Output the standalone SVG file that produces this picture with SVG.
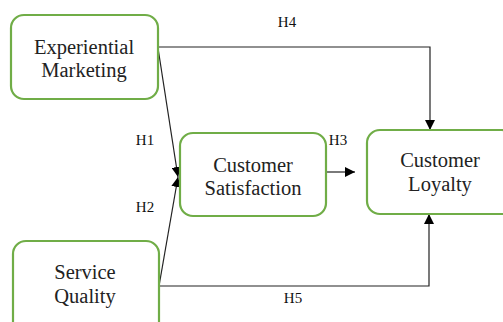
<svg xmlns="http://www.w3.org/2000/svg" width="503" height="322" viewBox="0 0 503 322">
  <style>
    .box { fill: #ffffff; stroke: #70ad47; stroke-width: 2.2; }
    .name { font-family: "Liberation Serif", "Times New Roman", serif; font-size: 20.5px; fill: #222; text-anchor: middle; }
    .hyp { font-family: "Liberation Serif", "Times New Roman", serif; font-size: 15px; fill: #111; text-anchor: middle; }
    .link { fill: none; stroke: #222; stroke-width: 1.2; }
  </style>
  <defs>
    <marker id="tip" viewBox="0 0 10 10" refX="10" refY="5" markerWidth="10" markerHeight="10" markerUnits="userSpaceOnUse" orient="auto">
      <path d="M0,0 L10,5 L0,10 Z" fill="#000"/>
    </marker>
  </defs>
  <rect width="503" height="322" fill="#ffffff"/>

  <g id="connectors">
    <!-- H4: Experiential Marketing -> Customer Loyalty (over the top) -->
    <polyline class="link" points="158,47 430,47 430,130" marker-end="url(#tip)"/>
    <!-- H1: Experiential Marketing -> Customer Satisfaction -->
    <line class="link" x1="158" y1="48" x2="178" y2="177" marker-end="url(#tip)"/>
    <!-- H2: Service Quality -> Customer Satisfaction -->
    <line class="link" x1="159" y1="286" x2="178" y2="177" marker-end="url(#tip)"/>
    <!-- H3: Customer Satisfaction -> Customer Loyalty -->
    <line class="link" x1="327" y1="172" x2="355" y2="172" marker-end="url(#tip)"/>
    <!-- H5: Service Quality -> Customer Loyalty (along the bottom) -->
    <polyline class="link" points="159,286 429,286 429,214" marker-end="url(#tip)"/>
    <text class="hyp" x="287" y="27">H4</text>
    <text class="hyp" x="145" y="145">H1</text>
    <text class="hyp" x="145" y="212">H2</text>
    <text class="hyp" x="338" y="145">H3</text>
    <text class="hyp" x="293" y="303">H5</text>
  </g>

  <g id="experiential-marketing">
    <rect class="box" x="11" y="15" width="147" height="84" rx="13"/>
    <text class="name" x="84" y="54">Experiential</text>
    <text class="name" x="84" y="77">Marketing</text>
  </g>

  <g id="customer-satisfaction">
    <rect class="box" x="180" y="133" width="146" height="83" rx="13"/>
    <text class="name" x="253" y="172">Customer</text>
    <text class="name" x="253" y="195">Satisfaction</text>
  </g>

  <g id="customer-loyalty">
    <rect class="box" x="367" y="130" width="148" height="84" rx="13"/>
    <text class="name" x="440" y="167">Customer</text>
    <text class="name" x="440" y="191">Loyalty</text>
  </g>

  <g id="service-quality">
    <rect class="box" x="13" y="241" width="146" height="95" rx="13"/>
    <text class="name" x="85" y="279">Service</text>
    <text class="name" x="85" y="303">Quality</text>
  </g>
</svg>
